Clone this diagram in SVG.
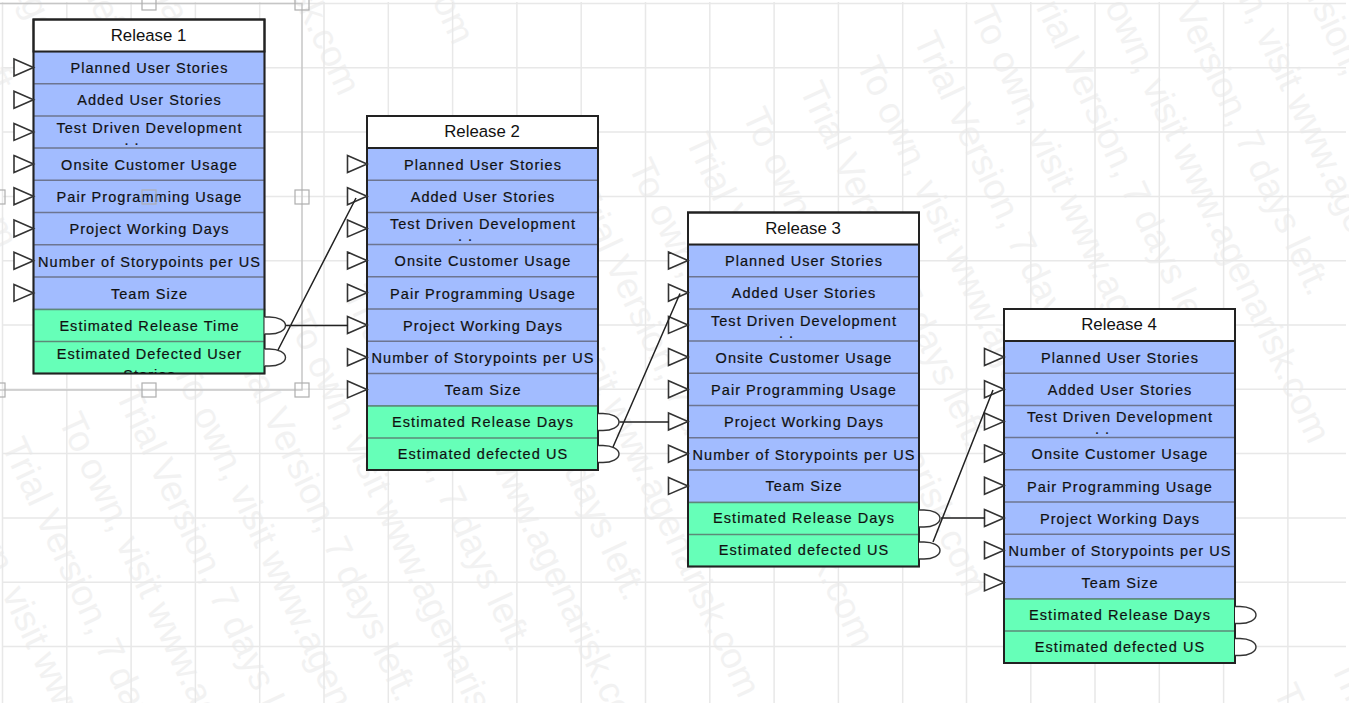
<svg xmlns="http://www.w3.org/2000/svg" width="1349" height="703" viewBox="0 0 1349 703">
<style>
.g{stroke:#e8e8e8;stroke-width:1.5;fill:none}
.wm{font:36.5px "Liberation Sans",Arial,sans-serif;fill:#f2f2f2}
.sel{stroke:#c6c6c6;stroke-width:1.5;fill:none}
.h{fill:none;stroke:#aeaeae;stroke-width:1.2}
.hd{fill:#fff;stroke:#222;stroke-width:2}
.b{fill:#a2bcff;stroke:#6d7590;stroke-width:1.5}
.e{fill:#66ffb8;stroke:#5d8a78;stroke-width:1.5}
.o{fill:none;stroke:#222;stroke-width:2}
.t{font:14.5px "Liberation Sans",Arial,sans-serif;letter-spacing:1.05px;fill:#111;stroke:#111;stroke-width:.2;text-anchor:middle}
.r{font:16.8px "Liberation Sans",Arial,sans-serif;fill:#111;text-anchor:middle}
.i{fill:#fff;stroke:#333;stroke-width:1.6}
.p{fill:#fff;stroke:#333;stroke-width:1.4}
.c{fill:none;stroke:#222;stroke-width:1.5}
</style>
<defs>
<polygon id="tri" class="i" points="-19.5,-8.5 0,0 -19.5,8.5"/>
<path id="out" class="p" d="M0-8.500H5A16 8.500 0 0 1 5 8.500H0"/>
<clipPath id="cl"><rect x="0" y="322" width="231" height="32"/></clipPath>
<clipPath id="cd"><rect x="0" y="97" width="231" height="32"/></clipPath>
</defs>
<rect width="1349" height="703" fill="#fff"/>
<g id="watermark">
<text class="wm" transform="translate(-228 -233) rotate(65)">To own, visit www.agenarisk.com</text>
<text class="wm" transform="translate(-171 -259) rotate(65)">Trial Version, 7 days left.</text>
<text class="wm" transform="translate(-114 -284) rotate(65)">To own, visit www.agenarisk.com</text>
<text class="wm" transform="translate(-57 -310) rotate(65)">Trial Version, 7 days left.</text>
<text class="wm" transform="translate(0 -335) rotate(65)">To own, visit www.agenarisk.com</text>
<text class="wm" transform="translate(57 -360) rotate(65)">Trial Version, 7 days left.</text>
<text class="wm" transform="translate(114 -386) rotate(65)">To own, visit www.agenarisk.com</text>
<text class="wm" transform="translate(228 -437) rotate(65)">To own, visit www.agenarisk.com</text>
<text class="wm" transform="translate(342 -487) rotate(65)">To own, visit www.agenarisk.com</text>
<text class="wm" transform="translate(-56 470) rotate(65)">To own, visit www.agenarisk.com</text>
<text class="wm" transform="translate(1 445) rotate(65)">Trial Version, 7 days left.</text>
<text class="wm" transform="translate(58 420) rotate(65)">To own, visit www.agenarisk.com</text>
<text class="wm" transform="translate(115 394) rotate(65)">Trial Version, 7 days left.</text>
<text class="wm" transform="translate(172 369) rotate(65)">To own, visit www.agenarisk.com</text>
<text class="wm" transform="translate(229 343) rotate(65)">Trial Version, 7 days left.</text>
<text class="wm" transform="translate(286 318) rotate(65)">To own, visit www.agenarisk.com</text>
<text class="wm" transform="translate(343 293) rotate(65)">Trial Version, 7 days left.</text>
<text class="wm" transform="translate(400 267) rotate(65)">To own, visit www.agenarisk.com</text>
<text class="wm" transform="translate(457 242) rotate(65)">Trial Version, 7 days left.</text>
<text class="wm" transform="translate(514 216) rotate(65)">To own, visit www.agenarisk.com</text>
<text class="wm" transform="translate(571 191) rotate(65)">Trial Version, 7 days left.</text>
<text class="wm" transform="translate(628 166) rotate(65)">To own, visit www.agenarisk.com</text>
<text class="wm" transform="translate(685 140) rotate(65)">Trial Version, 7 days left.</text>
<text class="wm" transform="translate(742 115) rotate(65)">To own, visit www.agenarisk.com</text>
<text class="wm" transform="translate(799 89) rotate(65)">Trial Version, 7 days left.</text>
<text class="wm" transform="translate(856 64) rotate(65)">To own, visit www.agenarisk.com</text>
<text class="wm" transform="translate(913 39) rotate(65)">Trial Version, 7 days left.</text>
<text class="wm" transform="translate(970 13) rotate(65)">To own, visit www.agenarisk.com</text>
<text class="wm" transform="translate(1027 -12) rotate(65)">Trial Version, 7 days left.</text>
<text class="wm" transform="translate(1084 -38) rotate(65)">To own, visit www.agenarisk.com</text>
<text class="wm" transform="translate(1141 -63) rotate(65)">Trial Version, 7 days left.</text>
<text class="wm" transform="translate(1198 -88) rotate(65)">To own, visit www.agenarisk.com</text>
<text class="wm" transform="translate(1255 -114) rotate(65)">Trial Version, 7 days left.</text>
<text class="wm" transform="translate(1312 -139) rotate(65)">To own, visit www.agenarisk.com</text>
<text class="wm" transform="translate(1273 691) rotate(65)">To own, visit www.agenarisk.com</text>
<text class="wm" transform="translate(1330 666) rotate(65)">Trial Version, 7 days left.</text>
</g>
<g id="grid"><path class="g" d="M2.500 2V703M66.800 2V703M131.100 2V703M195.400 2V703M259.700 2V703M324 2V703M388.300 2V703M452.600 2V703M516.900 2V703M581.200 2V703M645.500 2V703M709.800 2V703M774.100 2V703M838.400 2V703M902.700 2V703M966.500 2V703M1030.800 2V703M1095 2V703M1159.300 2V703M1223.600 2V703M1287.900 2V703M2 3.500H1346M2 67.800H1346M2 132.100H1346M2 196.400H1346M2 260.700H1346M2 325H1346M2 389.300H1346M2 453.600H1346M2 517.900H1346M2 582.200H1346M2 646.500H1346"/></g>
<g id="selection"><path class="sel" d="M0 3.500H302V390H0"/></g>
<g id="release-1" transform="translate(33.500 19.500)">
<rect class="b" x="0" y="32" width="231" height="258"/>
<rect class="e" x="0" y="290" width="231" height="64"/>
<path class="b" d="M0 64.200H231M0 96.400H231M0 128.600H231M0 160.800H231M0 193H231M0 225.200H231M0 257.400H231"/>
<path class="e" d="M0 322H231"/>
<rect class="hd" width="231" height="32"/><rect class="o" width="231" height="354"/>
<text class="r" x="115" y="21">Release 1</text>
<text class="t" x="116" y="53.500">Planned User Stories</text>
<text class="t" x="116" y="85.700">Added User Stories</text>
<text class="t" x="116" y="113">Test Driven Development</text>
<text class="t" x="98.500" y="125" clip-path="url(#cd)">. .</text>
<text class="t" x="116" y="150">Onsite Customer Usage</text>
<text class="t" x="116" y="182.500">Pair Programming Usage</text>
<text class="t" x="116" y="214.500">Project Working Days</text>
<text class="t" x="116" y="247">Number of Storypoints per US</text>
<text class="t" x="116" y="279">Team Size</text>
<text class="t" x="116" y="311">Estimated Release Time</text>
<text class="t" x="116" y="339">Estimated Defected User</text>
<text class="t" x="116" y="360" clip-path="url(#cl)">Stories</text>
<use href="#tri" y="48"/><use href="#tri" y="80.200"/><use href="#tri" y="112.400"/><use href="#tri" y="144.600"/><use href="#tri" y="176.800"/><use href="#tri" y="209"/><use href="#tri" y="241.200"/><use href="#tri" y="273.400"/>
<use href="#out" x="231" y="306"/><use href="#out" x="231" y="338"/>
</g>
<g id="release-2" transform="translate(367 116)">
<rect class="b" x="0" y="32" width="231" height="258"/>
<rect class="e" x="0" y="290" width="231" height="64"/>
<path class="b" d="M0 64.200H231M0 96.400H231M0 128.600H231M0 160.800H231M0 193H231M0 225.200H231M0 257.400H231"/>
<path class="e" d="M0 322H231"/>
<rect class="hd" width="231" height="32"/><rect class="o" width="231" height="354"/>
<text class="r" x="115" y="21">Release 2</text>
<text class="t" x="116" y="53.500">Planned User Stories</text>
<text class="t" x="116" y="85.700">Added User Stories</text>
<text class="t" x="116" y="113">Test Driven Development</text>
<text class="t" x="98.500" y="125" clip-path="url(#cd)">. .</text>
<text class="t" x="116" y="150">Onsite Customer Usage</text>
<text class="t" x="116" y="182.500">Pair Programming Usage</text>
<text class="t" x="116" y="214.500">Project Working Days</text>
<text class="t" x="116" y="247">Number of Storypoints per US</text>
<text class="t" x="116" y="279">Team Size</text>
<text class="t" x="116" y="311">Estimated Release Days</text>
<text class="t" x="116" y="343">Estimated defected US</text>
<use href="#tri" y="48"/><use href="#tri" y="80.200"/><use href="#tri" y="112.400"/><use href="#tri" y="144.600"/><use href="#tri" y="176.800"/><use href="#tri" y="209"/><use href="#tri" y="241.200"/><use href="#tri" y="273.400"/>
<use href="#out" x="231" y="306"/><use href="#out" x="231" y="338"/>
</g>
<g id="release-3" transform="translate(688 212.500)">
<rect class="b" x="0" y="32" width="231" height="258"/>
<rect class="e" x="0" y="290" width="231" height="64"/>
<path class="b" d="M0 64.200H231M0 96.400H231M0 128.600H231M0 160.800H231M0 193H231M0 225.200H231M0 257.400H231"/>
<path class="e" d="M0 322H231"/>
<rect class="hd" width="231" height="32"/><rect class="o" width="231" height="354"/>
<text class="r" x="115" y="21">Release 3</text>
<text class="t" x="116" y="53.500">Planned User Stories</text>
<text class="t" x="116" y="85.700">Added User Stories</text>
<text class="t" x="116" y="113">Test Driven Development</text>
<text class="t" x="98.500" y="125" clip-path="url(#cd)">. .</text>
<text class="t" x="116" y="150">Onsite Customer Usage</text>
<text class="t" x="116" y="182.500">Pair Programming Usage</text>
<text class="t" x="116" y="214.500">Project Working Days</text>
<text class="t" x="116" y="247">Number of Storypoints per US</text>
<text class="t" x="116" y="278.500">Team Size</text>
<text class="t" x="116" y="310.500">Estimated Release Days</text>
<text class="t" x="116" y="342.500">Estimated defected US</text>
<use href="#tri" y="48"/><use href="#tri" y="80.200"/><use href="#tri" y="112.400"/><use href="#tri" y="144.600"/><use href="#tri" y="176.800"/><use href="#tri" y="209"/><use href="#tri" y="241.200"/><use href="#tri" y="273.400"/>
<use href="#out" x="231" y="306"/><use href="#out" x="231" y="338"/>
</g>
<g id="release-4" transform="translate(1004 309)">
<rect class="b" x="0" y="32" width="231" height="258"/>
<rect class="e" x="0" y="290" width="231" height="64"/>
<path class="b" d="M0 64.200H231M0 96.400H231M0 128.600H231M0 160.800H231M0 193H231M0 225.200H231M0 257.400H231"/>
<path class="e" d="M0 322H231"/>
<rect class="hd" width="231" height="32"/><rect class="o" width="231" height="354"/>
<text class="r" x="115" y="21">Release 4</text>
<text class="t" x="116" y="53.500">Planned User Stories</text>
<text class="t" x="116" y="85.700">Added User Stories</text>
<text class="t" x="116" y="113">Test Driven Development</text>
<text class="t" x="98.500" y="125" clip-path="url(#cd)">. .</text>
<text class="t" x="116" y="150">Onsite Customer Usage</text>
<text class="t" x="116" y="182.500">Pair Programming Usage</text>
<text class="t" x="116" y="214.500">Project Working Days</text>
<text class="t" x="116" y="247">Number of Storypoints per US</text>
<text class="t" x="116" y="279">Team Size</text>
<text class="t" x="116" y="311">Estimated Release Days</text>
<text class="t" x="116" y="343">Estimated defected US</text>
<use href="#tri" y="48"/><use href="#tri" y="80.200"/><use href="#tri" y="112.400"/><use href="#tri" y="144.600"/><use href="#tri" y="176.800"/><use href="#tri" y="209"/><use href="#tri" y="241.200"/><use href="#tri" y="273.400"/>
<use href="#out" x="231" y="306"/><use href="#out" x="231" y="338"/>
</g>
<g id="connectors">
<path class="c" d="M286 325.500H348M278 350L356 198"/>
<path class="c" d="M619.500 422H669M613 447L680 293.500"/>
<path class="c" d="M941 518H985M933 542L993 390"/>
</g>
<g id="handles">
<rect class="h" x="142" y="-4" width="14" height="14"/><rect class="h" x="295" y="-4" width="14" height="14"/>
<rect class="h" x="-9" y="190" width="14" height="14"/><rect class="h" x="142" y="190" width="14" height="14"/><rect class="h" x="295" y="190" width="14" height="14"/>
<rect class="h" x="-9" y="383" width="14" height="14"/><rect class="h" x="142" y="383" width="14" height="14"/><rect class="h" x="295" y="383" width="14" height="14"/>
</g>
</svg>
